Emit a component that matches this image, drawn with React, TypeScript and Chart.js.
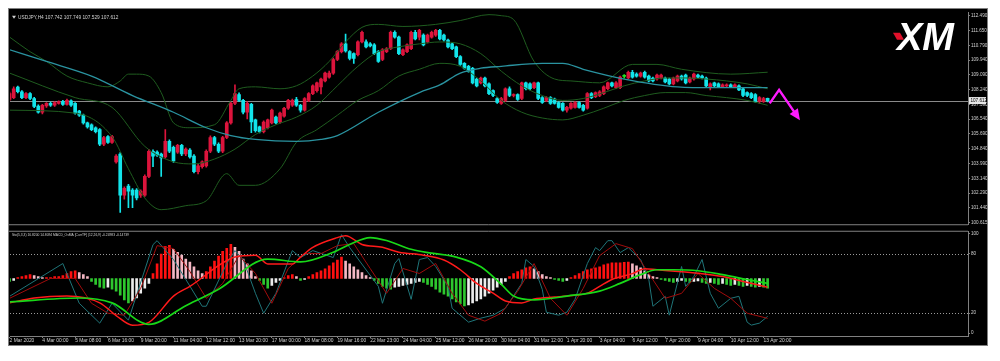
import React, { useEffect, useRef } from "react";
import { Chart, registerables } from "chart.js";

Chart.register(...registerables);

// ---------------- data ----------------
const symbolName = "USDJPY,H4";
const lastQuote = [107.742, 107.749, 107.529, 107.612];
const indicatorCaption = "Sto(5,3,3) 16.8200 14.8094 MACD_OsMA [CurrTF] (12,26,9) -0.24983 -0.14739";
const logoText = "XM";

const timeLabels = [
  "2 Mar 2020", "4 Mar 00:00", "5 Mar 08:00", "6 Mar 16:00", "9 Mar 20:00",
  "11 Mar 04:00", "12 Mar 12:00", "13 Mar 20:00", "17 Mar 00:00", "18 Mar 08:00",
  "19 Mar 16:00", "22 Mar 23:00", "24 Mar 04:00", "25 Mar 12:00", "26 Mar 20:00",
  "30 Mar 04:00", "31 Mar 12:00", "1 Apr 20:00", "3 Apr 04:00", "6 Apr 12:00",
  "7 Apr 20:00", "9 Apr 04:00", "10 Apr 12:00", "13 Apr 20:00",
];
const barsPerLabel = 8;
const barRange = [0.1, 233.9];

const priceTicks = [112.49, 111.65, 110.79, 109.94, 109.09, 108.24, 107.39, 106.54, 105.69, 104.84, 103.99, 103.14, 102.29, 101.44, 100.615];
const priceRange = [100.503, 112.658];
const stochTicks = [0, 20, 80, 100];
const stochLevels = [20, 80];
const stochRange = [-2.94, 101.96];
const macdRange = [-1.18, 0.96];

// open, high, low, close
const candles: number[][] = [
  [107.67,108.10,107.60,108.01],[107.78,108.40,107.72,108.29],[108.38,108.45,108.05,108.12],[108.12,108.18,107.72,107.78],
  [107.78,108.07,107.72,108.01],[108.01,108.07,107.66,107.73],[107.73,107.80,107.20,107.28],[107.30,107.36,106.88,106.94],
  [106.94,107.40,106.85,107.34],[107.30,107.50,107.22,107.45],[107.45,107.52,107.28,107.34],[107.34,107.56,107.28,107.50],
  [107.45,107.60,107.40,107.56],[107.56,107.62,107.33,107.39],[107.39,107.70,107.34,107.62],[107.60,107.66,107.28,107.34],
  [107.45,107.50,106.83,106.89],[107.00,107.05,106.70,106.77],[106.77,106.83,106.25,106.33],[106.33,106.38,106.02,106.10],
  [106.22,106.27,105.88,105.94],[106.05,106.10,105.75,105.82],[105.94,106.00,105.02,105.10],[105.10,105.55,105.02,105.49],
  [105.54,105.60,105.15,105.21],[105.21,105.62,105.15,105.54],[104.09,104.50,104.02,104.42],[104.54,104.62,101.18,102.18],
  [102.18,102.65,101.95,102.57],[102.69,102.80,101.45,102.41],[102.46,102.55,101.45,102.18],[102.46,102.55,101.90,102.01],
  [102.18,102.48,102.05,102.41],[102.18,103.35,102.10,103.25],[103.25,104.80,103.18,104.70],[104.70,104.78,103.81,104.42],
  [104.65,104.72,104.40,104.48],[104.54,104.60,103.25,104.31],[104.37,105.94,104.30,105.27],[105.27,105.35,104.62,104.70],
  [104.93,105.00,104.05,104.14],[104.65,105.10,104.58,105.04],[105.04,105.10,104.45,104.54],[104.54,104.90,104.45,104.82],
  [104.76,104.85,104.30,104.37],[104.42,104.50,103.45,103.53],[103.53,103.95,103.40,103.86],[103.81,104.15,103.72,104.09],
  [103.86,104.78,103.78,104.70],[104.70,105.58,104.62,105.49],[105.49,105.55,105.02,105.10],[105.10,105.18,104.62,104.70],
  [104.70,105.55,104.62,105.49],[105.49,106.40,105.42,106.33],[106.33,107.52,106.25,107.45],[107.45,108.51,107.38,108.01],
  [107.95,108.05,107.55,107.62],[107.62,107.68,106.85,106.94],[106.94,107.55,106.55,107.45],[107.40,107.45,105.77,106.38],
  [106.50,106.55,105.80,105.88],[106.10,106.15,105.75,105.82],[105.82,106.45,105.75,106.38],[106.05,106.55,105.98,106.50],
  [106.33,107.12,106.27,107.06],[106.66,106.72,106.27,106.33],[106.38,106.95,106.30,106.89],[106.72,107.22,106.66,107.17],
  [107.17,107.68,107.10,107.62],[107.34,107.70,107.28,107.62],[107.67,107.80,107.28,107.34],[107.34,107.40,106.95,107.06],
  [107.06,107.78,107.00,107.73],[107.62,108.07,107.55,108.01],[108.01,108.52,107.95,108.46],[108.18,108.68,108.10,108.63],
  [108.40,108.90,108.00,108.85],[108.74,109.25,108.68,109.19],[108.96,109.30,108.90,109.19],[109.19,110.05,109.12,109.97],
  [109.97,110.48,109.90,110.42],[110.42,110.95,110.35,110.87],[110.87,111.43,110.40,110.47],[110.42,110.48,109.95,110.03],
  [110.31,110.36,109.75,110.03],[110.25,111.05,110.18,110.98],[110.98,111.60,110.92,111.54],[110.98,111.10,110.64,110.70],
  [110.87,110.95,110.70,110.75],[110.81,110.88,110.25,110.31],[110.42,110.48,109.80,109.86],[109.97,110.60,109.90,110.53],
  [110.42,110.65,110.36,110.59],[110.59,111.60,110.53,111.54],[111.54,111.62,111.20,111.26],[111.26,111.32,110.25,110.31],
  [110.25,110.59,110.19,110.53],[110.42,110.87,110.36,110.81],[110.59,111.60,110.53,111.54],[111.54,111.65,111.10,111.15],
  [111.26,111.70,111.10,111.65],[111.37,111.45,110.75,110.81],[110.98,111.43,110.92,111.37],[111.26,111.60,111.20,111.54],
  [111.37,111.71,111.30,111.65],[111.65,111.71,111.10,111.15],[111.37,111.43,111.03,111.09],[111.09,111.15,110.64,110.70],
  [110.87,110.92,110.53,110.59],[110.70,110.75,110.08,110.14],[110.14,110.20,109.63,109.69],[109.75,109.80,109.41,109.47],
  [109.58,109.63,109.24,109.30],[109.47,109.52,108.57,108.63],[108.85,108.91,108.40,108.46],[108.63,108.96,108.57,108.91],
  [108.91,108.96,108.40,108.46],[108.57,108.63,107.95,108.01],[108.18,108.23,107.84,107.90],[107.73,107.78,107.45,107.50],
  [107.45,107.80,107.39,107.73],[107.62,108.35,107.55,108.29],[108.29,108.40,107.84,107.90],[107.90,108.00,107.82,107.95],
  [107.95,108.00,107.62,107.67],[107.73,108.68,107.66,108.63],[108.63,108.68,108.23,108.29],[108.57,108.63,108.23,108.29],
  [108.35,108.68,108.29,108.63],[108.63,108.68,107.66,107.73],[107.78,107.84,107.45,107.50],[107.62,107.84,107.55,107.78],
  [107.78,107.84,107.39,107.45],[107.70,107.76,107.40,107.45],[107.50,107.56,107.17,107.22],[107.45,107.50,107.00,107.06],
  [107.06,107.28,106.95,107.22],[107.17,107.50,107.11,107.45],[107.22,107.56,107.17,107.50],[107.50,107.56,107.17,107.22],
  [107.34,107.40,107.00,107.06],[107.17,108.07,107.11,108.01],[108.01,108.07,107.72,107.78],[107.84,108.12,107.78,108.07],
  [107.90,108.18,107.84,108.12],[108.01,108.46,107.95,108.40],[108.29,108.68,108.23,108.63],[108.63,108.68,108.40,108.46],
  [108.35,108.70,108.29,108.63],[108.35,109.02,108.29,108.96],[109.00,109.10,108.90,109.00],[108.91,109.30,108.85,109.24],
  [109.24,109.35,108.90,108.96],[109.13,109.20,108.96,109.02],[109.02,109.25,108.96,109.19],[109.24,109.30,108.90,108.96],
  [109.02,109.07,108.68,108.74],[108.91,108.96,108.68,108.74],[108.85,109.13,108.79,109.07],[108.91,109.13,108.85,109.07],
  [108.91,108.96,108.63,108.68],[108.85,108.91,108.51,108.57],[108.57,108.96,108.51,108.91],[108.74,109.07,108.68,109.02],
  [109.02,109.07,108.79,108.85],[109.07,109.13,108.57,108.63],[108.68,108.96,108.63,108.91],[108.85,109.19,108.79,109.13],
  [109.07,109.13,108.91,108.96],[109.02,109.07,108.85,108.91],[108.91,108.96,108.40,108.46],[108.40,108.63,108.23,108.57],
  [108.63,108.68,108.40,108.46],[108.57,108.63,108.35,108.40],[108.40,108.57,108.35,108.51],[108.46,108.57,108.40,108.51],
  [108.51,108.57,108.35,108.40],[108.40,108.57,108.35,108.51],[108.46,108.51,108.18,108.23],[108.29,108.35,107.84,107.90],
  [108.07,108.12,107.84,107.90],[108.01,108.07,107.72,107.78],[107.95,108.01,107.50,107.56],[107.56,107.84,107.45,107.78],
  [107.56,107.80,107.50,107.73],[107.742,107.749,107.529,107.612],
];

// [bar, price] readings of the overlay lines
const maTeal = [[0,110.53],[9,109.86],[20,109.02],[30,107.90],[40,106.94],[48,106.05],[54,105.60],[60,105.38],[70,105.27],[76,105.38],[80,105.60],[90,106.94],[100,108.07],[105,108.51],[110,109.19],[115,109.47],[120,109.58],[130,109.75],[135,109.75],[140,109.41],[150,108.85],[163,108.40],[172,108.35],[185,108.35]];
const bbUpper = [[0,111.26],[5,110.42],[9,109.86],[14,109.02],[19,108.63],[24,108.40],[27,108.74],[29,109.13],[31,109.13],[34,109.02],[37,108.07],[40,106.33],[44,106.05],[50,106.22],[54,107.62],[56,108.29],[60,108.40],[66,108.29],[70,108.46],[74,109.02],[78,109.86],[82,110.98],[86,111.82],[90,111.99],[96,111.87],[104,111.99],[110,112.21],[117,112.55],[120,112.49],[123,112.27],[128,109.86],[133,108.85],[137,108.74],[144,108.63],[152,109.69],[158,109.69],[164,109.41],[176,109.13],[185,109.24]];
const bbMiddle = [[0,109.19],[16,107.78],[25,107.22],[33,104.98],[40,104.09],[45,103.97],[50,104.25],[55,104.82],[60,105.66],[65,106.22],[70,106.66],[75,107.34],[80,108.46],[85,109.58],[90,110.42],[95,110.70],[100,110.87],[105,110.98],[110,110.87],[115,110.31],[120,109.30],[125,108.46],[130,107.90],[135,107.62],[140,107.73],[145,108.07],[150,108.46],[155,108.74],[160,108.91],[165,108.91],[170,108.85],[175,108.74],[180,108.57],[185,108.29]];
const bbLower = [[0,107.06],[16,106.89],[25,105.54],[29,103.69],[33,102.01],[37,101.34],[43,101.57],[48,101.85],[53,103.41],[56,102.74],[60,102.74],[66,103.69],[70,105.21],[75,105.94],[80,106.77],[85,107.62],[90,108.18],[95,109.02],[100,109.41],[105,109.75],[110,109.58],[115,108.74],[120,107.62],[125,106.94],[130,106.61],[135,106.50],[140,106.77],[145,107.17],[150,107.62],[155,107.90],[160,108.07],[165,108.07],[170,107.90],[175,107.78],[180,107.62],[185,107.34]];
const arrowPath = [[185.5,107.45],[187.8,108.23],[192.2,106.72]];

// lower window
const osma = [
  -0.06,-0.04,0.02,0.04,0.06,0.08,0.06,0.04,0.02,0.02,0.02,0.04,0.04,0.06,0.10,0.14,0.16,0.12,0.08,0.04,
  -0.06,-0.12,-0.18,-0.20,-0.18,-0.22,-0.26,-0.34,-0.44,-0.50,-0.46,-0.40,-0.30,-0.20,-0.10,0.10,0.30,0.50,0.66,0.68,
  0.60,0.54,0.48,0.40,0.34,0.24,0.16,0.10,0.14,0.24,0.36,0.46,0.56,0.62,0.70,0.64,0.56,0.40,0.30,0.16,
  0.04,-0.04,-0.12,-0.20,-0.14,-0.08,-0.04,0.02,0.06,0.08,0.04,-0.04,-0.02,0.04,0.08,0.12,0.16,0.20,0.26,0.32,
  0.38,0.44,0.36,0.30,0.24,0.18,0.12,0.06,0.02,-0.04,-0.10,-0.16,-0.20,-0.22,-0.18,-0.16,-0.14,-0.12,-0.10,-0.08,
  -0.06,-0.08,-0.12,-0.16,-0.22,-0.28,-0.32,-0.36,-0.42,-0.48,-0.52,-0.56,-0.54,-0.50,-0.46,-0.42,-0.36,-0.30,-0.24,-0.18,
  -0.12,-0.06,0.04,0.10,0.14,0.18,0.22,0.24,0.20,0.14,0.08,0.04,0.02,-0.02,-0.04,-0.06,-0.04,0.02,0.06,0.10,
  0.14,0.18,0.20,0.22,0.24,0.28,0.30,0.32,0.32,0.32,0.33,0.34,0.30,0.26,0.22,0.16,0.08,0.04,0.02,-0.02,
  -0.04,-0.06,-0.08,-0.06,-0.04,-0.06,-0.08,-0.06,-0.05,-0.08,-0.10,-0.08,-0.10,-0.12,-0.10,-0.12,-0.14,-0.12,-0.14,-0.16,
  -0.14,-0.16,-0.18,-0.16,-0.18,-0.20,
];
const macdMain = [[0,-0.50],[6,-0.40],[14,-0.36],[22,-0.50],[26,-0.76],[30,-0.96],[34,-0.90],[40,-0.36],[44,-0.16],[55,0.44],[60,0.48],[63,0.30],[69,0.30],[71,0.44],[74,0.64],[80,0.84],[82,0.88],[86,0.70],[91,0.64],[95,0.54],[101,0.48],[106,0.38],[110,0.18],[114,-0.10],[118,-0.30],[121,-0.46],[125,-0.50],[128,-0.42],[133,-0.38],[136,-0.36],[141,-0.30],[144,-0.16],[147,-0.02],[152,0.10],[155,0.20],[158,0.18],[164,0.14],[169,0.10],[174,0.04],[179,-0.06],[185,-0.18]];
const macdSignal = [[0,-0.48],[17,-0.40],[25,-0.50],[34,-0.94],[43,-0.56],[51,-0.22],[63,0.40],[71,0.34],[79,0.54],[83,0.70],[88,0.84],[92,0.78],[98,0.60],[103,0.52],[109,0.44],[115,0.24],[120,-0.12],[123,-0.36],[128,-0.44],[136,-0.36],[144,-0.26],[149,-0.10],[154,0.08],[158,0.18],[162,0.18],[168,0.16],[174,0.08],[180,-0.02],[185,-0.10]];
const stochMain = [[0,37],[13,70],[17,30],[22,10],[25,30],[29,13],[35,89],[36,93],[40,74],[43,54],[47,27],[48,27],[53,70],[55,83],[57,74],[60,40],[62,20],[65,40],[69,83],[71,76],[74,83],[79,76],[81,99],[83,86],[90,47],[91,30],[94,70],[95,75],[98,34],[100,74],[102,76],[104,67],[107,47],[108,25],[112,11],[115,15],[118,18],[121,25],[125,50],[126,74],[128,67],[130,44],[131,21],[134,18],[136,21],[138,34],[141,70],[143,86],[144,83],[146,93],[147,93],[149,81],[151,86],[154,74],[156,54],[157,27],[160,37],[161,18],[164,67],[165,47],[167,57],[169,74],[171,40],[173,25],[176,35],[178,37],[180,11],[181,8],[183,10],[185,16.8]];
const stochSignal = [[0,35],[10,55],[16,55],[20,30],[24,20],[28,18],[32,45],[36,88],[40,85],[44,62],[48,35],[52,50],[56,78],[60,60],[64,30],[68,65],[72,80],[76,80],[80,88],[84,90],[88,65],[92,40],[96,65],[100,60],[104,70],[108,40],[112,18],[116,12],[120,20],[124,42],[128,70],[132,35],[136,18],[140,45],[144,78],[148,90],[152,85],[156,60],[160,35],[164,40],[168,60],[172,45],[176,35],[180,20],[185,14.8]];

// ---------------- styling ----------------
const BG = "#000000";
const FRAME = "#808080";
const TEXT = "#d2d2d2";
const BULL = "#dc143c";
const BEAR = "#12e4ea";
const DOJI = "#22dd22";
const FONT = '"Liberation Sans", Arial, sans-serif';

const pts = (arr: number[][]) => arr.map(([x, y]) => ({ x, y }));
const candleColor = (c: number[]) => (c[3] > c[0] ? BULL : c[3] < c[0] ? BEAR : DOJI);
const osmaColor = (v: number, i: number) => {
  const prev = i > 0 ? osma[i - 1] : 0;
  if (v >= 0) return v >= prev ? "#ff1010" : "#f4b8c4";
  return v < prev ? "#2ec82e" : "#ececec";
};

const xScaleBase = {
  type: "linear" as const,
  min: barRange[0],
  max: barRange[1],
  offset: false,
  bounds: "data" as const,
};

const mainDeco = {
  id: "mainDeco",
  beforeDraw(chart: any) {
    const { ctx, width, height } = chart;
    ctx.save();
    ctx.fillStyle = BG;
    ctx.fillRect(0, 0, width, height);
    ctx.restore();
  },
  beforeDatasetsDraw(chart: any) {
    const { ctx, chartArea: a, scales } = chart;
    const y = Math.round(scales.y.getPixelForValue(lastQuote[3])) + 0.5;
    ctx.save();
    ctx.strokeStyle = "#8a8a8a";
    ctx.lineWidth = 1;
    ctx.beginPath();
    ctx.moveTo(a.left, y);
    ctx.lineTo(a.right, y);
    ctx.stroke();
    ctx.restore();
  },
  afterDraw(chart: any) {
    const { ctx, chartArea: a, scales } = chart;
    ctx.save();
    ctx.strokeStyle = FRAME;
    ctx.lineWidth = 1;
    ctx.beginPath();
    ctx.moveTo(0, a.bottom + 0.5);
    ctx.lineTo(a.right, a.bottom + 0.5);
    ctx.stroke();
    ctx.fillStyle = TEXT;
    ctx.beginPath();
    ctx.moveTo(a.left + 2, a.top + 3);
    ctx.lineTo(a.left + 6, a.top + 3);
    ctx.lineTo(a.left + 4, a.top + 6);
    ctx.closePath();
    ctx.fill();
    ctx.font = `4.8px ${FONT}`;
    ctx.textBaseline = "middle";
    ctx.textAlign = "left";
    ctx.fillText(`${symbolName} ${lastQuote.map((v) => v.toFixed(3)).join(" ")}`, a.left + 8, a.top + 4.5);
    const py = scales.y.getPixelForValue(lastQuote[3]);
    ctx.fillStyle = "#e6e6e6";
    ctx.fillRect(a.right + 1, py - 3.5, 17, 7);
    ctx.fillStyle = "#000";
    ctx.font = `4.6px ${FONT}`;
    ctx.fillText(lastQuote[3].toFixed(3), a.right + 2.5, py + 0.3);
    const lx = a.right - 76;
    const ly = a.top + 8;
    ctx.fillStyle = "#e0102a";
    ctx.beginPath();
    ctx.moveTo(lx + 1, ly + 12);
    ctx.lineTo(lx + 8, ly + 12);
    ctx.lineTo(lx + 12, ly + 19);
    ctx.lineTo(lx + 5, ly + 19);
    ctx.closePath();
    ctx.fill();
    ctx.fillStyle = "#ffffff";
    ctx.font = `italic bold 38px ${FONT}`;
    ctx.textBaseline = "alphabetic";
    ctx.fillText(logoText, lx + 5, ly + 29);
    const meta = chart.getDatasetMeta(0);
    const d = meta.data;
    if (d.length >= 2) {
      const p1 = d[d.length - 2];
      const p2 = d[d.length - 1];
      const ang = Math.atan2(p2.y - p1.y, p2.x - p1.x);
      ctx.fillStyle = "#ff1aff";
      ctx.translate(p2.x, p2.y);
      ctx.rotate(ang);
      ctx.beginPath();
      ctx.moveTo(5, 0);
      ctx.lineTo(-6, -5);
      ctx.lineTo(-6, 5);
      ctx.closePath();
      ctx.fill();
    }
    ctx.restore();
  },
};

const subDeco = {
  id: "subDeco",
  beforeDraw(chart: any) {
    const { ctx, width, height } = chart;
    ctx.save();
    ctx.fillStyle = BG;
    ctx.fillRect(0, 0, width, height);
    ctx.restore();
  },
  beforeDatasetsDraw(chart: any) {
    const { ctx, chartArea: a, scales } = chart;
    ctx.save();
    ctx.strokeStyle = "#9a9a9a";
    ctx.lineWidth = 1;
    ctx.setLineDash([1, 2]);
    stochLevels.forEach((v) => {
      const y = Math.round(scales.y.getPixelForValue(v)) + 0.5;
      ctx.beginPath();
      ctx.moveTo(a.left, y);
      ctx.lineTo(a.right, y);
      ctx.stroke();
    });
    ctx.restore();
  },
  afterDraw(chart: any) {
    const { ctx, chartArea: a } = chart;
    ctx.save();
    ctx.strokeStyle = FRAME;
    ctx.lineWidth = 1;
    ctx.beginPath();
    ctx.moveTo(0, a.top - 0.5);
    ctx.lineTo(a.right, a.top - 0.5);
    ctx.stroke();
    ctx.fillStyle = TEXT;
    ctx.font = `3.3px ${FONT}`;
    ctx.textBaseline = "middle";
    ctx.textAlign = "left";
    ctx.fillText(indicatorCaption, a.left + 2, a.top + 3);
    ctx.restore();
  },
};

function lineDs(label: string, data: number[][], color: string, width: number, axis: string, order: number, smooth = true) {
  return {
    type: "line" as const,
    label,
    data: pts(data),
    borderColor: color,
    borderWidth: width,
    pointRadius: 0,
    fill: false,
    yAxisID: axis,
    order,
    cubicInterpolationMode: smooth ? ("monotone" as const) : ("default" as const),
    tension: 0,
  };
}

function mainConfig(): any {
  return {
    type: "bar",
    data: {
      datasets: [
        { ...lineDs("arrow", arrowPath, "#ff1aff", 2.4, "y", -1, false) },
        lineDs("ma", maTeal, "#2a93a0", 1.3, "y", 0),
        lineDs("bbUpper", bbUpper, "#1f5c1f", 1, "y", 0),
        lineDs("bbMiddle", bbMiddle, "#1f5c1f", 1, "y", 0),
        lineDs("bbLower", bbLower, "#1f5c1f", 1, "y", 0),
        {
          label: "body",
          data: candles.map((c, i) => ({ x: i, y: [c[0], c[3]] })),
          backgroundColor: candles.map(candleColor),
          barThickness: 3,
          grouped: false,
          minBarLength: 1,
          yAxisID: "y",
          order: 1,
        },
        {
          label: "wick",
          data: candles.map((c, i) => ({ x: i, y: [c[2], c[1]] })),
          backgroundColor: candles.map(candleColor),
          barThickness: 1,
          grouped: false,
          yAxisID: "y",
          order: 2,
        },
      ],
    },
    options: {
      responsive: false,
      animation: false,
      events: [],
      layout: { padding: { left: 1, top: 1, bottom: 1, right: 0 } },
      plugins: { legend: { display: false }, tooltip: { enabled: false } },
      scales: {
        x: { ...xScaleBase, display: false, grid: { offset: false } },
        y: {
          position: "right",
          min: priceRange[0],
          max: priceRange[1],
          afterBuildTicks: (s: any) => { s.ticks = priceTicks.map((v) => ({ value: v })); },
          afterFit: (s: any) => { s.width = 19; },
          ticks: { color: TEXT, font: { size: 4.6, family: FONT }, padding: 1, callback: (v: any) => Number(v).toFixed(3) },
          grid: { drawOnChartArea: false, drawTicks: true, tickLength: 2, tickColor: FRAME },
          border: { display: true, color: FRAME },
        },
      },
    },
    plugins: [mainDeco],
  };
}

function subConfig(): any {
  return {
    type: "bar",
    data: {
      datasets: [
        lineDs("signal", macdSignal, "#18d818", 1.7, "yM", 0),
        lineDs("macd", macdMain, "#ff1a1a", 1.5, "yM", 1),
        lineDs("stochSignal", stochSignal, "#a00c0c", 1, "y", 2, false),
        lineDs("stochMain", stochMain, "#1f7478", 1, "y", 3, false),
        {
          label: "osma",
          data: osma.map((v, i) => ({ x: i, y: v })),
          backgroundColor: osma.map(osmaColor),
          barThickness: 2,
          grouped: false,
          yAxisID: "yM",
          order: 4,
        },
      ],
    },
    options: {
      responsive: false,
      animation: false,
      events: [],
      layout: { padding: { left: 1, top: 1, bottom: 0, right: 0 } },
      plugins: { legend: { display: false }, tooltip: { enabled: false } },
      scales: {
        x: {
          ...xScaleBase,
          position: "bottom",
          afterBuildTicks: (s: any) => { s.ticks = timeLabels.map((_, k) => ({ value: k * barsPerLabel })); },
          afterFit: (s: any) => { s.height = 9; },
          ticks: {
            autoSkip: false,
            maxRotation: 0,
            minRotation: 0,
            align: "start",
            padding: 0,
            color: TEXT,
            font: { size: 4.9, family: FONT },
            callback: (v: any) => timeLabels[Math.round(Number(v) / barsPerLabel)] ?? "",
          },
          grid: { drawOnChartArea: false, drawTicks: true, tickLength: 2, tickColor: FRAME, offset: false },
          border: { display: true, color: FRAME },
        },
        y: {
          position: "right",
          min: stochRange[0],
          max: stochRange[1],
          afterBuildTicks: (s: any) => { s.ticks = stochTicks.map((v) => ({ value: v })); },
          afterFit: (s: any) => { s.width = 19; },
          ticks: { color: TEXT, font: { size: 4.6, family: FONT }, padding: 1 },
          grid: { drawOnChartArea: false, drawTicks: true, tickLength: 2, tickColor: FRAME },
          border: { display: true, color: FRAME },
        },
        yM: { display: false, min: macdRange[0], max: macdRange[1] },
      },
    },
    plugins: [subDeco],
  };
}

export default function App() {
  const mainRef = useRef<HTMLCanvasElement>(null);
  const subRef = useRef<HTMLCanvasElement>(null);
  useEffect(() => {
    const main = new Chart(mainRef.current as HTMLCanvasElement, mainConfig());
    const sub = new Chart(subRef.current as HTMLCanvasElement, subConfig());
    return () => {
      main.destroy();
      sub.destroy();
    };
  }, []);
  return (
    <div style={{ position: "relative", width: 978, height: 336, background: BG, border: `1px solid ${FRAME}` }}>
      <canvas ref={mainRef} width={978} height={219} style={{ position: "absolute", left: 0, top: 0 }} />
      <canvas ref={subRef} width={978} height={117} style={{ position: "absolute", left: 0, top: 219 }} />
    </div>
  );
}
